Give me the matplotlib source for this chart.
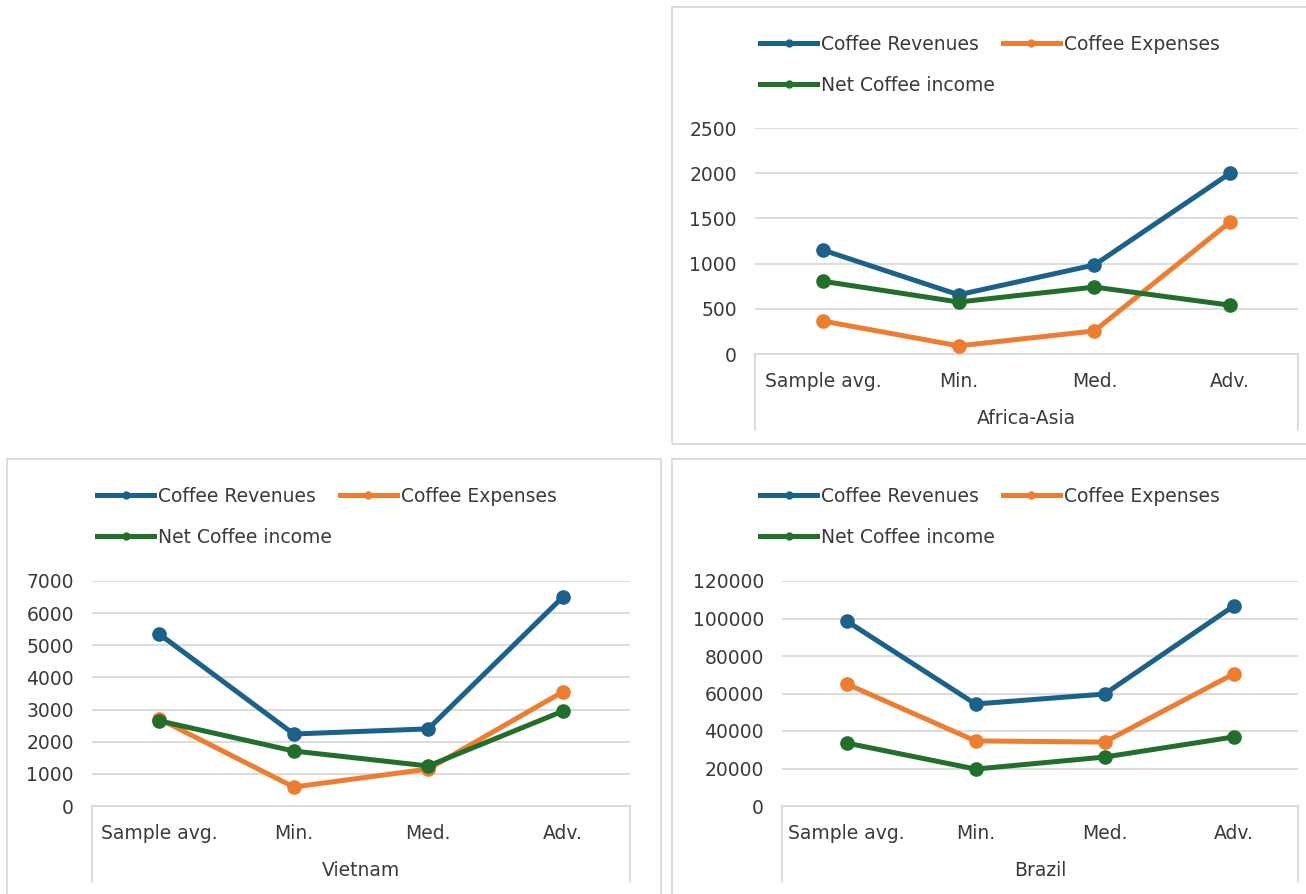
import matplotlib
matplotlib.use("Agg")
import matplotlib.pyplot as plt
from matplotlib.lines import Line2D
from matplotlib.patches import Rectangle

categories = ["Sample avg.", "Min.", "Med.", "Adv."]
series_names = ["Coffee Revenues", "Coffee Expenses", "Net Coffee income"]

africa_rev = [1150, 655, 985, 2000]
africa_exp = [365, 90, 255, 1460]
africa_net = [805, 575, 740, 540]

vietnam_rev = [5350, 2240, 2400, 6500]
vietnam_exp = [2710, 590, 1150, 3550]
vietnam_net = [2650, 1710, 1245, 2950]

brazil_rev = [98700, 54400, 59700, 106600]
brazil_exp = [65100, 34700, 34100, 70400]
brazil_net = [33600, 19700, 26100, 36800]

colors = ["#1c6189", "#ed7d31", "#226f2b"]
GRID = "#d9d9d9"
TXT = "#3a3a3a"

W, H = 1306, 894
fig = plt.figure(figsize=(W / 100, H / 100), dpi=100)
plt.rcParams['font.family'] = ['DejaVu Sans']
FS = 13.5


def px_axes(left, right, top, bottom):
    return fig.add_axes([left / W, 1 - bottom / H, (right - left) / W, (bottom - top) / H])


def panel_border(x0, y0, x1, y1):
    fig.patches.append(Rectangle((x0 / W, 1 - y1 / H), (x1 - x0) / W, (y1 - y0) / H,
                                 transform=fig.transFigure, fill=False,
                                 edgecolor=GRID, linewidth=1.3))


def draw_panel(box, axpx, values, ymax, ystep, group, legend_xy):
    panel_border(*box)
    left, right, top, bottom, boxbottom = axpx
    ax = px_axes(left, right, top, bottom)
    xs = list(range(len(categories)))
    for vals, c in zip(values, colors):
        ax.plot(xs, vals, color=c, linewidth=3.6, marker="o", markersize=9.5,
                solid_capstyle="round", zorder=3)
    ax.set_xlim(-0.5, len(categories) - 0.5)
    ax.set_ylim(0, ymax)
    ax.set_yticks(range(0, ymax + 1, ystep))
    ax.yaxis.grid(True, color=GRID, linewidth=1.3)
    ax.set_axisbelow(True)
    for s in ["top", "left", "right"]:
        ax.spines[s].set_visible(False)
    ax.spines["bottom"].set_color(GRID)
    ax.spines["bottom"].set_linewidth(1.3)
    ax.tick_params(axis="y", length=0, pad=13, labelsize=FS, labelcolor=TXT)
    ax.tick_params(axis="x", length=0, pad=13, labelsize=FS, labelcolor=TXT)
    ax.set_xticks(xs)
    ax.set_xticklabels(categories)
    ext = -(boxbottom - bottom) / (bottom - top)
    for xv in (0, 1):
        ax.add_line(Line2D([xv, xv], [0, ext], transform=ax.transAxes, color=GRID,
                           linewidth=1.3, clip_on=False))
    ax.text(0.5, -(419 - 354) / (bottom - top), group, transform=ax.transAxes, ha="center",
            va="center", fontsize=FS, color=TXT)
    # legend
    handles = [Line2D([], [], color=c, linewidth=3.6, marker="o", markersize=5)
               for c in colors]
    order = [0, 2, 1]
    fig.legend([handles[i] for i in order], [series_names[i] for i in order],
               loc="upper left", bbox_to_anchor=(legend_xy[0] / W, 1 - legend_xy[1] / H),
               bbox_transform=fig.transFigure, ncol=2, frameon=False, fontsize=FS,
               handlelength=3.05, handletextpad=0.2, columnspacing=0.43,
               labelspacing=1.15, borderpad=0, borderaxespad=0, labelcolor=TXT)
    return ax


draw_panel((672, 7, 1320, 444), (755, 1298, 128, 354, 430),
           [africa_rev, africa_exp, africa_net], 2500, 500, "Africa-Asia", (760, 35))
draw_panel((7, 459, 661, 910), (92, 630, 581, 806, 882),
           [vietnam_rev, vietnam_exp, vietnam_net], 7000, 1000, "Vietnam", (97, 487))
draw_panel((672, 459, 1320, 910), (782, 1298, 581, 806, 882),
           [brazil_rev, brazil_exp, brazil_net], 120000, 20000, "Brazil", (760, 487))

fig.savefig("out.png", dpi=100, facecolor="white")
